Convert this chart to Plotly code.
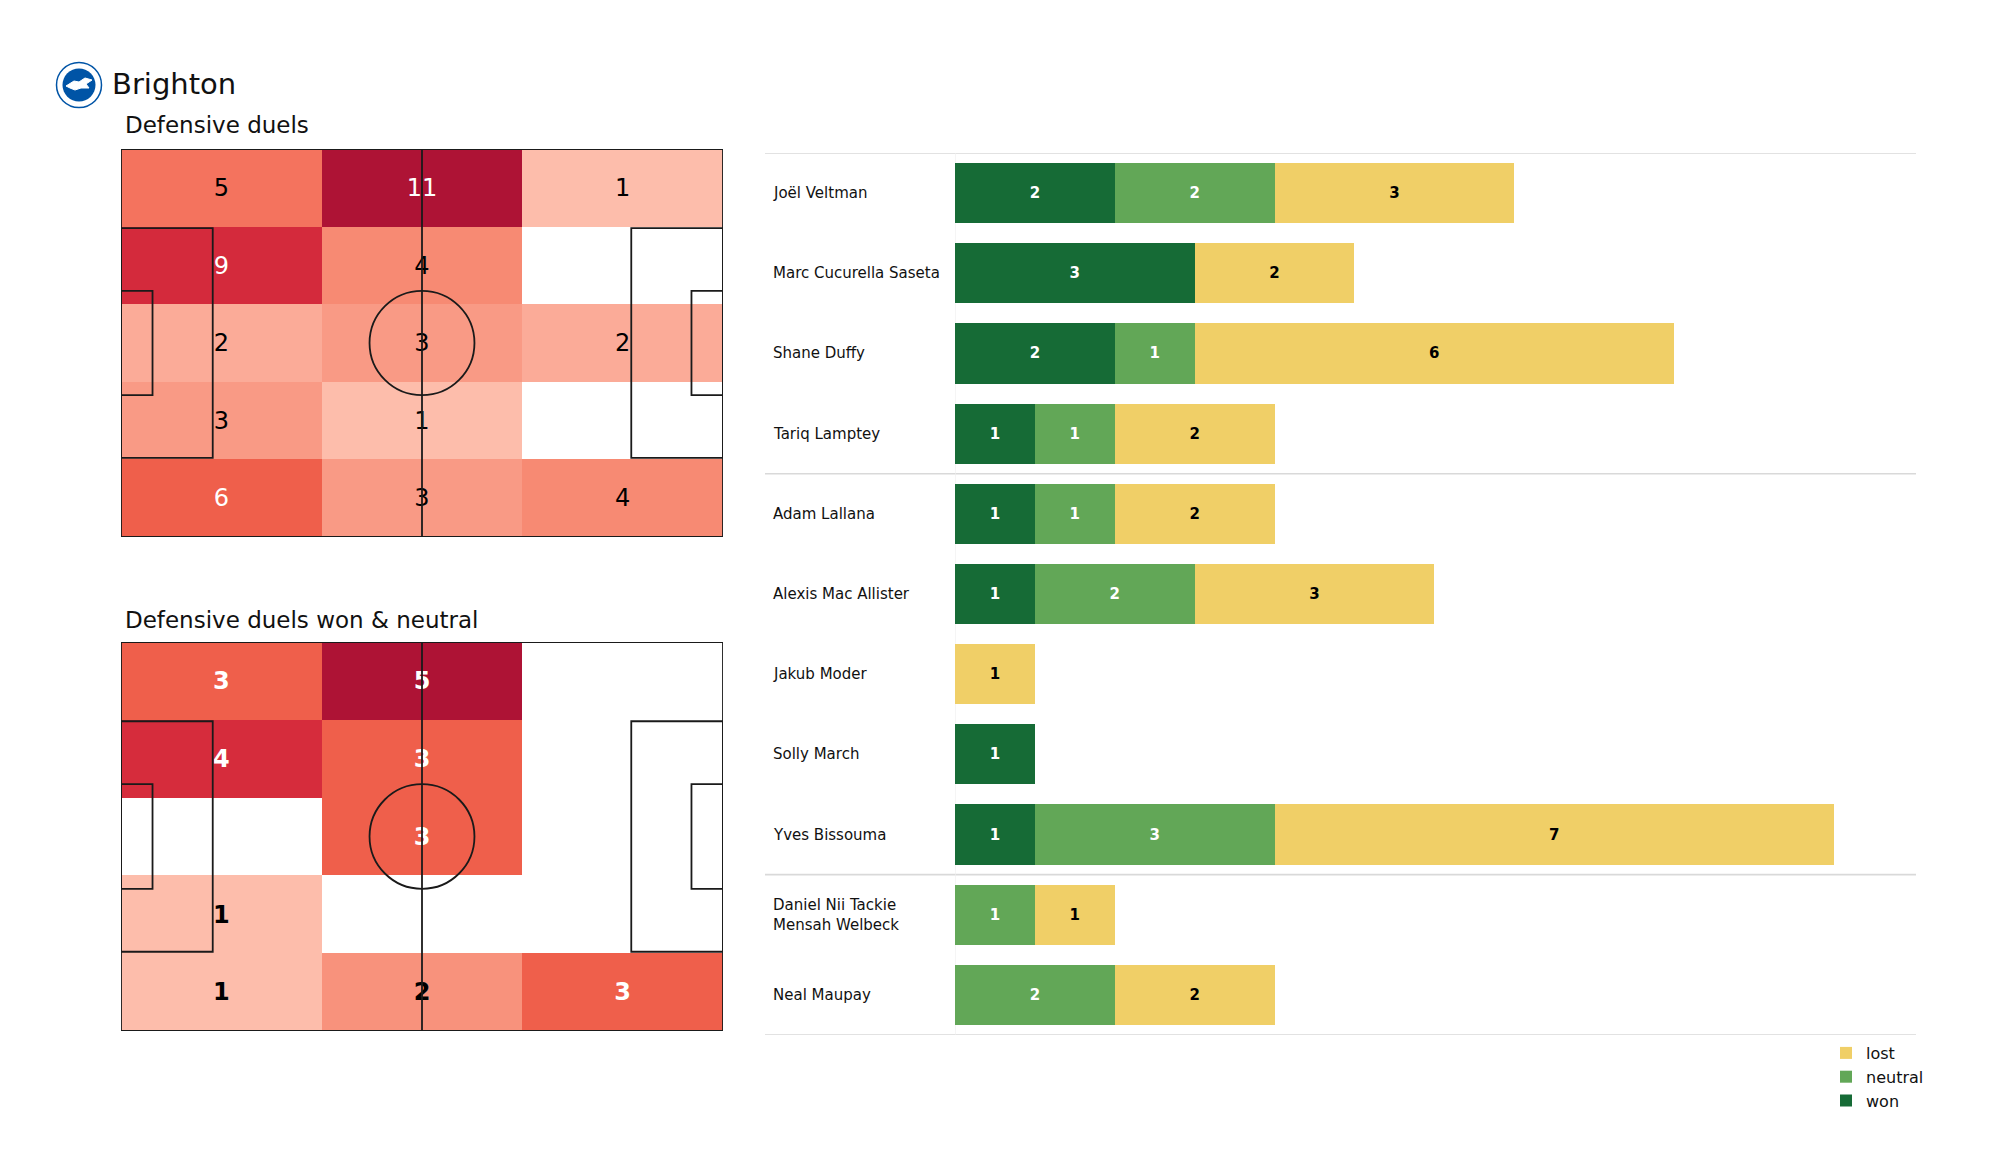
import plotly.graph_objects as go

W, H = 2000, 1175
OFF = 8  # page body margin in the browser
FONT = "DejaVu Sans"

# ---------------- data ----------------
team = "Brighton"
title_all = "Defensive duels"
title_won = "Defensive duels won & neutral"

# pitch zones: rows top -> bottom, columns left -> right
duels_all = [
    [5, 11, 1],
    [9, 4, 0],
    [2, 3, 2],
    [3, 1, 0],
    [6, 3, 4],
]
duels_won = [
    [3, 5, 0],
    [4, 3, 0],
    [0, 3, 0],
    [1, 0, 0],
    [1, 2, 3],
]

players = [
    "Joël Veltman",
    "Marc Cucurella Saseta",
    "Shane Duffy",
    "Tariq Lamptey",
    "Adam Lallana",
    "Alexis Mac Allister",
    "Jakub Moder",
    "Solly March",
    "Yves Bissouma",
    "Daniel Nii Tackie<br>Mensah Welbeck",
    "Neal Maupay",
]
won = [2, 3, 2, 1, 1, 1, 0, 1, 1, 0, 0]
neutral = [2, 0, 1, 1, 1, 2, 0, 0, 3, 1, 2]
lost = [3, 2, 6, 2, 2, 3, 1, 0, 7, 1, 2]
group_breaks = [3.5, 8.5]

# ---------------- styles ----------------
C_WON = "#166b36"
C_NEU = "#62a757"
C_LOST = "#f0cf67"
REDS = [
    [0.0, "#fdbdab"],
    [0.1, "#fbab98"],
    [0.2, "#f99a85"],
    [0.3, "#f78a73"],
    [0.4, "#f4735e"],
    [0.5, "#ef5f4b"],
    [0.75, "#d62c3c"],
    [0.8, "#d42a3c"],
    [1.0, "#ae1335"],
]

PL, PW = 105.0, 68.0


def px_x(p):
    return (p - OFF) / W


def px_y(p):
    return 1 - (p - OFF) / H


fig = go.Figure()


def add_pitch(counts, xa, ya, bold):
    nz = [v for row in counts for v in row if v > 0]
    vmin, vmax = min(nz), max(nz)
    z = [[(v if v > 0 else None) for v in row] for row in counts]
    nrow, ncol = len(counts), len(counts[0])
    xe = [PL * i / ncol for i in range(ncol + 1)]
    ye = [PW * j / nrow for j in range(nrow + 1)]
    fig.add_trace(go.Heatmap(
        z=z, x=xe, y=ye, xaxis=xa, yaxis=ya, zmin=vmin, zmax=vmax,
        colorscale=REDS, showscale=False, hoverinfo="skip", xgap=0, ygap=0,
    ))
    tx, ty, tt, tc = [], [], [], []
    for j, row in enumerate(counts):
        for i, v in enumerate(row):
            if v <= 0:
                continue
            t = (v - vmin) / (vmax - vmin) if vmax > vmin else 1
            tx.append((xe[i] + xe[i + 1]) / 2)
            ty.append((ye[j] + ye[j + 1]) / 2 + 0.4)
            tt.append(str(v))
            tc.append("white" if t >= 0.5 else "black")
    fig.add_trace(go.Scatter(
        x=tx, y=ty, text=tt, mode="text", xaxis=xa, yaxis=ya,
        textfont=dict(family=FONT, size=24, color=tc,
                      weight="bold" if bold else "normal"),
        hoverinfo="skip", showlegend=False,
    ))
    xr, yr = xa, ya
    lc = dict(color="#1a1a1a", width=1.8)

    def rect(x0, y0, x1, y1):
        fig.add_shape(type="rect", xref=xr, yref=yr, x0=x0, y0=y0, x1=x1, y1=y1,
                      line=lc, fillcolor="rgba(0,0,0,0)", layer="above")

    rect(0, 0, PL, PW)
    fig.add_shape(type="line", xref=xr, yref=yr, x0=PL / 2, x1=PL / 2, y0=0, y1=PW,
                  line=lc, layer="above")
    r = 9.15
    fig.add_shape(type="circle", xref=xr, yref=yr, x0=PL / 2 - r, x1=PL / 2 + r,
                  y0=PW / 2 - r, y1=PW / 2 + r, line=lc, layer="above")
    pb_w, pb_d = 40.3, 16.0
    ga_w, ga_d = 18.3, 5.5
    rect(0, PW / 2 - pb_w / 2, pb_d, PW / 2 + pb_w / 2)
    rect(PL - pb_d, PW / 2 - pb_w / 2, PL, PW / 2 + pb_w / 2)
    rect(0, PW / 2 - ga_w / 2, ga_d, PW / 2 + ga_w / 2)
    rect(PL - ga_d, PW / 2 - ga_w / 2, PL, PW / 2 + ga_w / 2)


add_pitch(duels_all, "x", "y", False)
add_pitch(duels_won, "x2", "y2", True)

# ---------------- stacked bars ----------------
for name, vals, col, tcol in [
    ("won", won, C_WON, "white"),
    ("neutral", neutral, C_NEU, "white"),
    ("lost", lost, C_LOST, "black"),
]:
    fig.add_trace(go.Bar(
        y=players, x=vals, orientation="h", name=name,
        marker=dict(color=col, line=dict(width=0)),
        width=0.75, xaxis="x3", yaxis="y3",
        text=[str(v) if v > 0 else "" for v in vals],
        textposition="inside", insidetextanchor="middle", textangle=0,
        constraintext="none",
        textfont=dict(family=FONT, size=15, color=tcol, weight="bold"),
        hoverinfo="skip",
    ))

ax_hidden = dict(showgrid=False, zeroline=False, showticklabels=False, showline=False, ticks="")
layout = dict(
    width=W, height=H, margin=dict(l=0, r=0, t=0, b=0),
    paper_bgcolor="white", plot_bgcolor="rgba(0,0,0,0)",
    font=dict(family=FONT, color="#111111"),
    barmode="stack", bargap=0.25,
    xaxis=dict(domain=[px_x(121), px_x(723)], range=[0, PL], **ax_hidden),
    yaxis=dict(domain=[px_y(537), px_y(149)], range=[PW, 0], **ax_hidden),
    xaxis2=dict(domain=[px_x(121), px_x(723)], range=[0, PL], anchor="y2", **ax_hidden),
    yaxis2=dict(domain=[px_y(1031), px_y(642)], range=[PW, 0], anchor="x2", **ax_hidden),
    xaxis3=dict(domain=[px_x(955), px_x(1916)], range=[0, 12.03], anchor="y3", **ax_hidden),
    yaxis3=dict(domain=[px_y(1035), px_y(153)], range=[10.5, -0.5], anchor="x3",
                type="category", **ax_hidden),
    legend=dict(x=px_x(1826), y=px_y(1036), xanchor="left", yanchor="top",
                traceorder="reversed", font=dict(family=FONT, size=16, color="#111"),
                bgcolor="rgba(0,0,0,0)", itemwidth=30, tracegroupgap=0),
    showlegend=True,
)
fig.update_layout(**layout)
for tr in fig.data:
    if tr.type != "bar":
        tr.showlegend = False

# player names
for p in players:
    fig.add_annotation(x=px_x(771), xref="paper", y=p, yref="y3", text=p, showarrow=False,
                       xanchor="left", yanchor="middle", align="left",
                       font=dict(family=FONT, size=15, color="#111"))

# separators
for yb in [-0.5] + group_breaks + [len(players) - 0.5]:
    fig.add_shape(type="line", xref="paper", yref="y3", x0=px_x(765), x1=px_x(1916),
                  y0=yb, y1=yb, line=dict(color="#d9d9d9", width=1.6), layer="below")
fig.add_shape(type="line", xref="x3", yref="y3", x0=0, x1=0, y0=-0.5, y1=len(players) - 0.5,
              line=dict(color="#eeeeee", width=1.2), layer="below")

# titles
fig.add_annotation(x=px_x(110), y=px_y(84), xref="paper", yref="paper", text=team,
                   showarrow=False, xanchor="left", yanchor="middle",
                   font=dict(family=FONT, size=29, color="#111"))
fig.add_annotation(x=px_x(123), y=px_y(125), xref="paper", yref="paper", text=title_all,
                   showarrow=False, xanchor="left", yanchor="middle",
                   font=dict(family=FONT, size=23, color="#111"))
fig.add_annotation(x=px_x(123), y=px_y(620), xref="paper", yref="paper", text=title_won,
                   showarrow=False, xanchor="left", yanchor="middle",
                   font=dict(family=FONT, size=23, color="#111"))

# crest (simple drawing)
cx, cy = 79, 85


def circ(r, fill, line_col, lw):
    fig.add_shape(type="circle", xref="paper", yref="paper",
                  x0=px_x(cx - r), x1=px_x(cx + r), y0=px_y(cy + r), y1=px_y(cy - r),
                  fillcolor=fill, line=dict(color=line_col, width=lw))


circ(22.5, "white", "#0054a6", 1.5)
circ(16.5, "#0054a6", "#0054a6", 0)
gull = [(-13, 1), (-5, -4), (0, -3), (6, -7), (13, -5), (7, -1), (10, 3), (2, 3), (-4, 5), (-9, 3)]
path = "M " + " L ".join(f"{px_x(cx + dx):.5f},{px_y(cy + dy):.5f}" for dx, dy in gull) + " Z"
fig.add_shape(type="path", xref="paper", yref="paper", path=path, fillcolor="white",
              line=dict(color="white", width=1))

fig.write_html("out.html")
